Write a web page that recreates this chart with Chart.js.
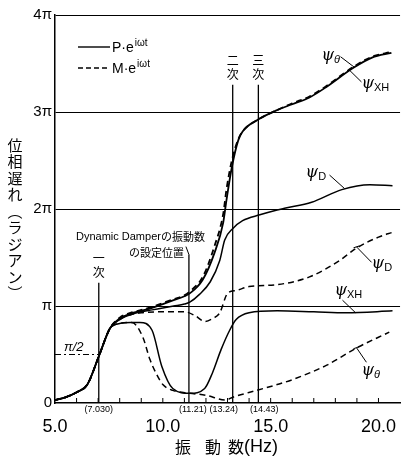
<!DOCTYPE html>
<html>
<head>
<meta charset="utf-8">
<script src="https://cdn.jsdelivr.net/npm/chart.js@4"></script>
<style>
  body { margin: 0; background: #fff; }
  canvas { display: block; }
</style>
</head>
<body>
<canvas id="phase" width="401" height="460"></canvas>
<script>
// frequencies in Hz, phase lag in units of pi
var thetaP_f = [5.0, 5.5, 6.0, 6.5, 7.03, 7.55, 8.0, 8.5, 9.0, 9.5, 10.0, 10.5, 11.0, 11.25, 11.85, 12.4, 12.8, 12.95, 13.2, 13.5, 13.7, 14.4, 15.3, 16.0, 16.8, 17.6, 18.8, 19.7, 20.6];
var thetaP_y = [0.03, 0.06, 0.11, 0.19, 0.48, 0.77, 0.87, 0.92, 0.95, 0.98, 1.02, 1.06, 1.1, 1.13, 1.27, 1.55, 1.86, 2.09, 2.43, 2.71, 2.8, 2.92, 3.02, 3.08, 3.15, 3.26, 3.45, 3.56, 3.61];

var xhM_f = [5.0, 5.5, 6.0, 6.5, 7.03, 7.55, 8.0, 8.5, 9.0, 9.5, 10.0, 10.5, 11.0, 11.25, 11.85, 12.4, 12.8, 12.95, 13.2, 13.5, 13.7, 14.4, 15.3, 16.0, 16.8, 17.6, 18.8, 19.7, 20.6];
var xhM_y = [0.03, 0.06, 0.11, 0.19, 0.48, 0.77, 0.88, 0.93, 0.96, 0.99, 1.03, 1.07, 1.11, 1.15, 1.3, 1.62, 1.95, 2.2, 2.5, 2.72, 2.8, 2.92, 3.02, 3.09, 3.16, 3.27, 3.46, 3.57, 3.62];

var dP_f = [5.0, 5.5, 6.0, 6.5, 7.03, 7.55, 8.0, 8.5, 9.0, 9.5, 10.0, 10.5, 11.0, 11.25, 11.7, 12.2, 12.64, 12.87, 13.25, 13.7, 14.5, 15.3, 15.7, 16.9, 18.3, 19.6, 20.65];
var dP_y = [0.03, 0.06, 0.11, 0.19, 0.48, 0.77, 0.86, 0.91, 0.94, 0.96, 0.98, 1.0, 1.02, 1.04, 1.12, 1.25, 1.47, 1.68, 1.8, 1.88, 1.94, 1.99, 2.01, 2.07, 2.2, 2.25, 2.24];

var dM_f = [5.0, 5.5, 6.0, 6.5, 7.03, 7.55, 8.0, 8.5, 9.0, 10.0, 11.0, 11.5, 11.95, 12.3, 12.64, 13.0, 13.4, 14.0, 15.3, 16.8, 18.2, 19.0, 20.0, 20.65];
var dM_y = [0.03, 0.06, 0.11, 0.19, 0.48, 0.77, 0.86, 0.91, 0.93, 0.94, 0.94, 0.9, 0.84, 0.87, 0.93, 1.13, 1.16, 1.2, 1.22, 1.3, 1.47, 1.6, 1.71, 1.76];

var xhP_f = [5.0, 5.5, 6.0, 6.5, 7.03, 7.55, 8.0, 8.5, 8.94, 9.5, 9.95, 10.46, 11.25, 11.94, 12.3, 12.7, 13.1, 13.4, 14.0, 15.3, 17.0, 18.5, 20.65];
var xhP_y = [0.03, 0.06, 0.11, 0.19, 0.48, 0.77, 0.82, 0.83, 0.83, 0.75, 0.38, 0.15, 0.1, 0.15, 0.31, 0.55, 0.75, 0.86, 0.93, 0.95, 0.94, 0.93, 0.95];

var thetaM_f = [5.0, 5.5, 6.0, 6.5, 7.03, 7.55, 8.0, 8.56, 9.07, 9.4, 9.7, 10.0, 10.46, 11.25, 12.0, 12.9, 13.25, 14.35, 15.3, 16.0, 17.6, 19.0, 20.5];
var thetaM_y = [0.03, 0.06, 0.11, 0.19, 0.48, 0.77, 0.82, 0.83, 0.68, 0.45, 0.3, 0.19, 0.13, 0.1, 0.08, 0.03, 0.06, 0.13, 0.19, 0.24, 0.39, 0.57, 0.73];

var xTicks = [5, 10, 15, 20];
var xTickText = ["5.0", "10.0", "15.0", "20.0"];
var yTicks = [0, 1, 2, 3, 4];
var yTickText = ["0", "π", "2π", "3π", "4π"];

// vertical reference lines (Hz) and how high they go (units of pi)
var refFreq = [7.03, 11.21, 13.24, 14.43];
var refTop = [1.24, 1.53, 3.28, 3.28];
var refText = ["(7.030)", "(11.21)", "(13.24)", "(14.43)"];

function pts(f, y) {
    return f.map(function (v, i) { return { x: v, y: y[i] }; });
}

function line(f, y, dashed, w) {
    return {
        data: pts(f, y),
        borderColor: "#000",
        borderWidth: w,
        borderDash: dashed ? [6, 4] : [],
        pointRadius: 0,
        fill: false,
        cubicInterpolationMode: "monotone",
    };
}

var CJK = '"Noto Sans CJK JP"';
var LAT = '"Liberation Sans", Arial, sans-serif';

var decor = {
    id: "decor",
    afterDatasetsDraw: function (chart) {
        var ctx = chart.ctx;
        var xs = chart.scales.x, ys = chart.scales.y;
        var a = chart.chartArea;
        ctx.save();
        ctx.strokeStyle = "#000";
        ctx.fillStyle = "#000";

        // small ticks inside the plot along the x axis
        ctx.lineWidth = 1;
        for (var f = 6; f <= 20; f++) {
            var px = xs.getPixelForValue(f);
            ctx.beginPath();
            ctx.moveTo(px, a.bottom);
            ctx.lineTo(px, a.bottom - 5);
            ctx.stroke();
        }

        // reference lines
        ctx.lineWidth = 1.3;
        refFreq.forEach(function (rf, i) {
            var px = xs.getPixelForValue(rf);
            ctx.beginPath();
            ctx.moveTo(px, a.bottom);
            ctx.lineTo(px, ys.getPixelForValue(refTop[i]));
            ctx.stroke();
        });
        var shift = [0, 4, -9, 6];
        ctx.font = "9px " + LAT;
        ctx.textAlign = "center";
        ctx.textBaseline = "middle";
        refText.forEach(function (t, i) {
            ctx.fillText(t, xs.getPixelForValue(refFreq[i]) + shift[i], a.bottom + 7);
        });

        // 一次 / 二次 / 三次
        ctx.font = "12px " + CJK;
        function stack(chars, px, top) {
            chars.forEach(function (c, k) {
                ctx.fillText(c, px, top + k * 14);
            });
        }
        stack(["一", "次"], xs.getPixelForValue(refFreq[0]), ys.getPixelForValue(refTop[0]) - 24);
        stack(["二", "次"], xs.getPixelForValue(refFreq[2]), ys.getPixelForValue(refTop[2]) - 24);
        stack(["三", "次"], xs.getPixelForValue(refFreq[3]), ys.getPixelForValue(refTop[3]) - 24);

        // damper setting note
        var dx = xs.getPixelForValue(refFreq[1]);
        var dy = ys.getPixelForValue(refTop[1]);
        ctx.textAlign = "right";
        var cj = "の振動数";
        ctx.font = "11px " + CJK;
        var cjw = ctx.measureText(cj).width;
        ctx.fillText(cj, dx + 16, dy - 18);
        ctx.font = "11px " + LAT;
        ctx.fillText("Dynamic Damper", dx + 16 - cjw, dy - 18);
        ctx.font = "11px " + CJK;
        ctx.fillText("の設定位置", dx - 5, dy - 2);
        ctx.lineWidth = 1;
        ctx.beginPath();
        ctx.moveTo(dx, dy);
        ctx.lineTo(dx - 3, dy - 8);
        ctx.stroke();

        // pi/2 marker
        var hy = ys.getPixelForValue(0.5);
        ctx.setLineDash([6, 3, 2, 3]);
        ctx.beginPath();
        ctx.moveTo(a.left, hy);
        ctx.lineTo(xs.getPixelForValue(refFreq[0]), hy);
        ctx.stroke();
        ctx.setLineDash([]);
        ctx.textAlign = "left";
        ctx.textBaseline = "alphabetic";
        ctx.font = "italic 13px " + LAT;
        ctx.fillText("π/2", a.left + 9, hy - 4);

        // legend
        var lx = a.left + 23;
        ctx.lineWidth = 1.4;
        [["P", 47, false], ["M", 68, true]].forEach(function (it) {
            ctx.setLineDash(it[2] ? [5, 3] : []);
            ctx.beginPath();
            ctx.moveTo(lx, it[1]);
            ctx.lineTo(lx + 32, it[1]);
            ctx.stroke();
            ctx.setLineDash([]);
            ctx.font = "14px " + LAT;
            var s = it[0] + "·e";
            ctx.fillText(s, lx + 34, it[1] + 5);
            var w = ctx.measureText(s).width;
            ctx.font = "10px " + LAT;
            ctx.fillText("iωt", lx + 35 + w, it[1] - 1);
        });

        // curve labels with leaders
        var labels = [
            { sub: "θ", f: 17.36, y: 3.54, l: [18.24, 3.57, 18.89, 3.46], tick: false },
            { sub: "XH", f: 19.21, y: 3.25, l: [18.66, 3.43, 19.21, 3.31], tick: false },
            { sub: "D", f: 16.62, y: 2.33, l: [17.73, 2.35, 18.43, 2.21], tick: false },
            { sub: "D", f: 19.68, y: 1.39, l: [18.98, 1.61, 19.68, 1.45], tick: true },
            { sub: "XH", f: 17.96, y: 1.11, l: [18.33, 1.06, 18.94, 0.93], tick: false },
            { sub: "θ", f: 19.21, y: 0.29, l: [18.98, 0.57, 19.44, 0.42], tick: true },
        ];
        ctx.lineWidth = 1;
        labels.forEach(function (lb) {
            var tx = xs.getPixelForValue(lb.f), ty = ys.getPixelForValue(lb.y);
            ctx.font = 'italic 16px "DejaVu Serif"';
            ctx.fillText("ψ", tx, ty);
            var w = ctx.measureText("ψ").width;
            ctx.font = (lb.sub === "θ" ? "italic " : "") + "11px " + LAT;
            ctx.fillText(lb.sub, tx + w, ty + 3);
            var x1 = xs.getPixelForValue(lb.l[0]), y1 = ys.getPixelForValue(lb.l[1]);
            var x2 = xs.getPixelForValue(lb.l[2]), y2 = ys.getPixelForValue(lb.l[3]);
            ctx.beginPath();
            ctx.moveTo(x1, y1);
            ctx.lineTo(x2, y2);
            if (lb.tick) {
                ctx.moveTo(x1 - 3, y1 + 1);
                ctx.lineTo(x1 + 3, y1 - 1);
            }
            ctx.stroke();
        });

        // axis titles
        ctx.textAlign = "center";
        ctx.textBaseline = "middle";
        ctx.font = "15px " + CJK;
        var title = ["位", "相", "遅", "れ", "︵", "ラ", "ジ", "ア", "ン", "︶"];
        title.forEach(function (c, k) {
            ctx.fillText(c, 15, 145 + k * 16.5);
        });
        ctx.font = "16px " + CJK;
        ctx.fillText("振", 183, 447);
        ctx.fillText("動", 213, 447);
        ctx.fillText("数", 236, 447);
        ctx.textAlign = "left";
        ctx.font = "18px " + LAT;
        ctx.fillText("(Hz)", 244, 447);
        ctx.restore();
    },
};

new Chart(document.getElementById("phase").getContext("2d"), {
    type: "line",
    data: {
        datasets: [
            line(thetaP_f, thetaP_y, false, 1.8),
            line(xhM_f, xhM_y, true, 1.8),
            line(dP_f, dP_y, false, 1.5),
            line(dM_f, dM_y, true, 1.5),
            line(xhP_f, xhP_y, false, 1.5),
            line(thetaM_f, thetaM_y, true, 1.5),
        ],
    },
    options: {
        responsive: false,
        animation: false,
        layout: { padding: { top: 15, right: 0, left: 0, bottom: 0 } },
        plugins: {
            legend: false,
            tooltip: { enabled: false },
        },
        scales: {
            x: {
                type: "linear",
                min: 5,
                max: 21,
                afterFit: function (s) { s.height = 57; },
                afterBuildTicks: function (s) {
                    s.ticks = xTicks.map(function (v) { return { value: v }; });
                },
                grid: { display: false },
                border: { color: "#000", width: 1.5 },
                ticks: {
                    color: "#000",
                    font: { size: 18, family: LAT },
                    padding: 5,
                    maxRotation: 0,
                    callback: function (v, i) { return xTickText[i]; },
                },
            },
            y: {
                min: 0,
                max: 4,
                afterFit: function (s) { s.width = 55; },
                afterBuildTicks: function (s) {
                    s.ticks = yTicks.map(function (v) { return { value: v }; });
                },
                grid: {
                    color: function (c) { return c.tick && c.tick.value === 0 ? "rgba(0,0,0,0)" : "#000"; },
                    lineWidth: 1,
                    drawTicks: false,
                },
                border: { color: "#000", width: 1.5 },
                ticks: {
                    color: "#000",
                    font: { size: 15, family: LAT },
                    padding: 3,
                    callback: function (v, i) { return yTickText[i]; },
                },
            },
        },
    },
    plugins: [decor],
});
</script>
</body>
</html>
